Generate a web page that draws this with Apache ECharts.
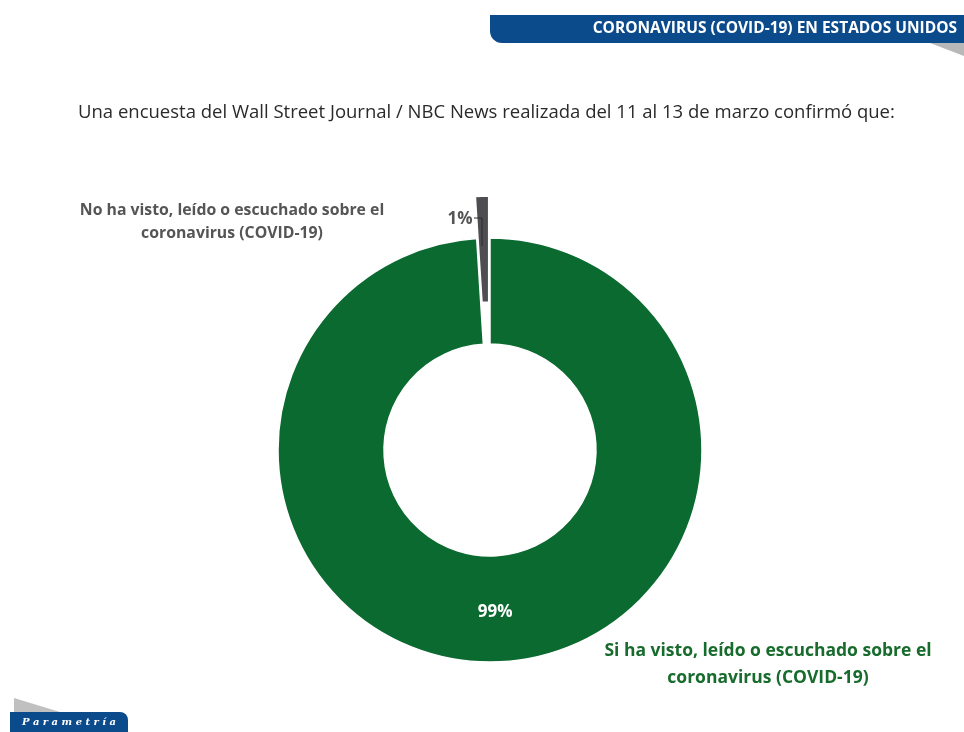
<!DOCTYPE html>
<html>
<head>
<meta charset="utf-8">
<script src="https://cdn.jsdelivr.net/npm/echarts@6/dist/echarts.min.js"></script>
<style>
html,body{margin:0;padding:0;background:#fff;}
#chart{width:964px;height:732px;}
</style>
</head>
<body>
<div id="chart"></div>
<script>
var categories = ['Si ha visto, leído o escuchado sobre el\ncoronavirus (COVID-19)', 'No ha visto, leído o escuchado sobre el\ncoronavirus (COVID-19)'];
var values = [99, 1];
var colors = ['#0b6a30', '#4e4e52'];
var titleText = 'Una encuesta del Wall Street Journal / NBC News realizada del 11 al 13 de marzo confirmó que:';
var headerText = 'CORONAVIRUS (COVID-19) EN ESTADOS UNIDOS';
var logoText = 'P a r a m e t r í a';

var chart = echarts.init(document.getElementById('chart'));
var font = '"Open Sans", "Liberation Sans", sans-serif';

var option = {
  backgroundColor: '#ffffff',
  animation: false,
  graphic: [
    {type: 'rect', shape: {x: 490, y: 15, width: 474, height: 28, r: [0, 0, 0, 12]}, style: {fill: '#0b4a8b'}},
    {type: 'polygon', shape: {points: [[930, 43], [964, 43], [964, 56]]}, style: {fill: '#b8b8b8'}},
    {type: 'text', x: 957, y: 29, style: {text: headerText, fill: '#ffffff', font: 'bold 15.5px ' + font, textAlign: 'right', textVerticalAlign: 'middle'}},
    {type: 'text', x: 78, y: 113, style: {text: titleText, fill: '#2a2a2a', font: '18.5px ' + font, textVerticalAlign: 'middle'}},
    {type: 'text', x: 232, y: 222, style: {text: categories[1], fill: '#555555', font: 'bold 15.8px ' + font, textAlign: 'center', textVerticalAlign: 'middle', lineHeight: 23}},
    {type: 'text', x: 768, y: 665, style: {text: categories[0], fill: '#176b2c', font: 'bold 17.5px ' + font, textAlign: 'center', textVerticalAlign: 'middle', lineHeight: 27}},
    {type: 'polygon', shape: {points: [[14, 698], [14, 712], [60, 712]]}, style: {fill: '#c0c0c0'}},
    {type: 'rect', shape: {x: 10, y: 712, width: 118, height: 22, r: [0, 8, 0, 0]}, style: {fill: '#0b4a8b'}},
    {type: 'text', x: 69, y: 722, style: {text: logoText, fill: '#ffffff', font: 'italic bold 10px "DejaVu Serif", serif', textAlign: 'center', textVerticalAlign: 'middle'}},
    {type: 'polyline', z: 100, shape: {points: [[474, 218], [482, 218], [482, 246]]}, style: {stroke: '#2a2a2a', lineWidth: 1, fill: null}}
  ],
  series: [{
    type: 'pie',
    center: [490, 450],
    radius: [106, 212],
    startAngle: 90,
    clockwise: true,
    selectedMode: 'single',
    selectedOffset: 42,
    avoidLabelOverlap: false,
    itemStyle: {borderColor: '#ffffff', borderWidth: 1.5},
    label: {show: true},
    labelLine: {show: false},
    labelLayout: function (params) {
      if (params.dataIndex === 1) {
        return {dx: 26, dy: 38};
      }
      return {};
    },
    data: [
      {value: values[0], name: categories[0], itemStyle: {color: colors[0]},
        label: {position: 'inside', formatter: '{c}%', color: '#ffffff', fontSize: 17, fontWeight: 'bold', fontFamily: font}},
      {value: values[1], name: categories[1], selected: true, itemStyle: {color: colors[1]},
        label: {position: 'outside', formatter: '{c}%', color: '#555555', fontSize: 17, fontWeight: 'bold', fontFamily: font}}
    ]
  }]
};
chart.setOption(option);
</script>
</body>
</html>
